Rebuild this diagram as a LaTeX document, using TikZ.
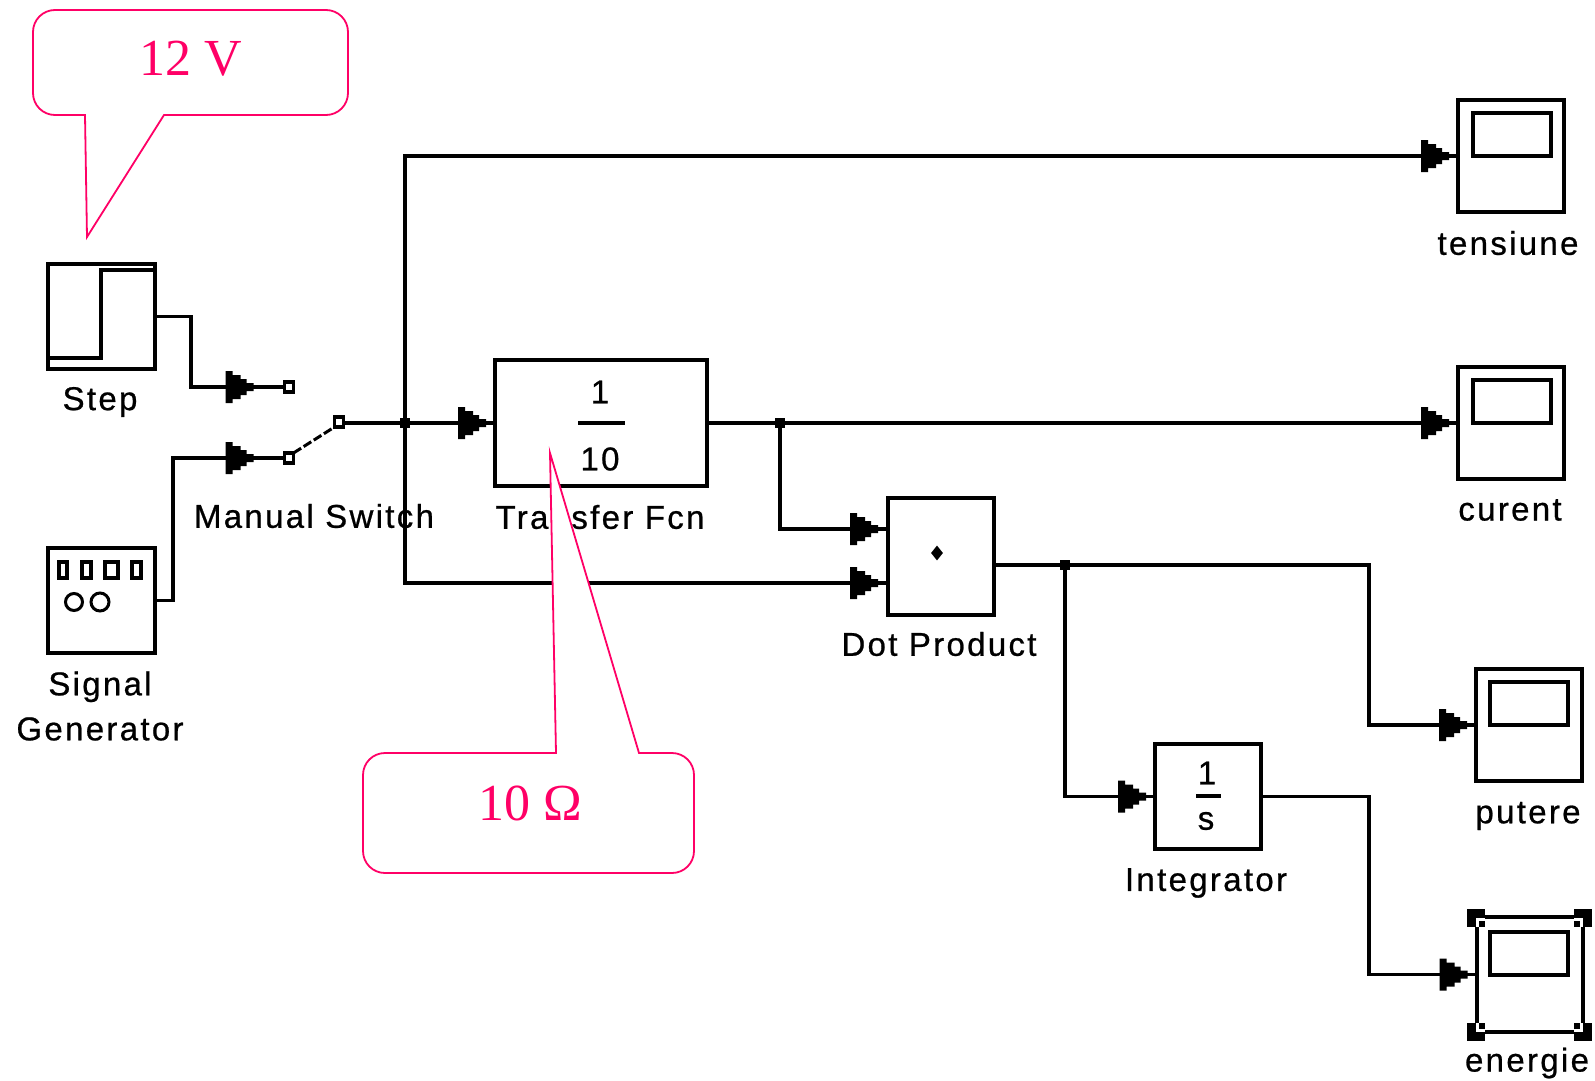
\documentclass[tikz,border=0pt]{standalone}
\usepackage{fontspec}
\setmainfont{Liberation Serif}
\newfontfamily\blockfont[LetterSpace=7,FakeBold=0.7]{Liberation Sans}
\usetikzlibrary{decorations.markings,shapes.geometric}
\definecolor{callpink}{RGB}{255,0,102}
\newcommand{\stairhead}{\fill[black] (-28pt,-16pt) -- (-21pt,-16pt) -- (-21pt,-12pt) -- (-13pt,-12pt) -- (-13pt,-8pt) -- (-7pt,-8pt) -- (-7pt,-4pt) -- (0pt,-4pt) -- (0pt,4pt) -- (-7pt,4pt) -- (-7pt,8pt) -- (-13pt,8pt) -- (-13pt,12pt) -- (-21pt,12pt) -- (-21pt,16pt) -- (-28pt,16pt) -- cycle;}
\tikzset{
  blockbox/.style={draw=black,line width=4pt,fill=white,inner sep=0pt,outer sep=0pt,rectangle},
  screenbox/.style={draw=black,line width=4pt,inner sep=0pt,outer sep=0pt,rectangle,minimum width=78pt,minimum height=43pt},
  scopebox/.style={blockbox,minimum width=106pt,minimum height=112pt},
  blocklabel/.style={font=\blockfont\fontsize{33}{40}\selectfont,inner sep=0pt,align=center},
  blocktext/.style={font=\blockfont\fontsize{33}{40}\selectfont,inner sep=0pt},
  wire/.style={line width=3.8pt,line join=miter},
  sig/.style={wire,postaction={decorate},decoration={markings,
     mark=at position -#1pt with {\stairhead}}},
  sig/.default=9,
  junction/.style={fill=black,rectangle,inner sep=0pt,minimum size=10pt,outer sep=0pt},
  portbox/.style={draw=black,line width=3.4pt,fill=white,rectangle,inner sep=0pt,minimum width=9pt,minimum height=10pt,outer sep=0pt},
  callpath/.style={draw=callpink,line width=1.8pt,fill=white,line join=miter},
  calltext/.style={text=callpink,font=\fontsize{52}{60}\selectfont,inner sep=0pt},
  handlebg/.style={fill=black,rectangle,inner sep=0pt,minimum size=18pt},
  handlein/.style={fill=white,rectangle,inner sep=0pt,minimum size=9pt},
  handledot/.style={fill=black,rectangle,inner sep=0pt,minimum size=6pt},
}
\begin{document}
\begin{tikzpicture}[x=1pt,y=-1pt]
\useasboundingbox (0,0) rectangle (1595,1081);
\fill[white] (0,0) rectangle (1595,1081);

% blocks
\node[blockbox,minimum width=107pt,minimum height=105pt] (step) at (101.5,316.5) {};
\node[blockbox,minimum width=107pt,minimum height=105pt] (gen) at (101.5,600.5) {};
\node[blockbox,minimum width=212pt,minimum height=126pt] (tf) at (601,423) {};
\node[blockbox,minimum width=106pt,minimum height=117pt] (dot) at (940.5,556) {};
\node[blockbox,minimum width=106pt,minimum height=105pt] (integ) at (1208,796.5) {};
\node[scopebox] (sten) at (1511,156) {};
\node[scopebox] (scur) at (1511,423) {};
\node[scopebox] (sput) at (1529,725) {};
\node[scopebox,minimum height=115pt] (sene) at (1529.5,974.5) {};
\node[screenbox] (iten) at (1512,134.5) {};
\node[screenbox] (icur) at (1512,401) {};
\node[screenbox] (iput) at (1529,703.5) {};
\node[screenbox] (iene) at (1528.5,953) {};

% block icons
\coordinate (stepa) at (48,358);
\coordinate (stepb) at (101,358);
\coordinate (stepc) at (101,270);
\coordinate (stepd) at (155,270);
\draw[line width=4pt,line join=miter] (stepa) -- (stepb) -- (stepc) -- (stepd);
\foreach \nm/\xa/\xb in {a/57/69,b/80/93,c/103/120,d/130/143}{
  \node[draw=black,line width=3.8pt,rectangle,inner sep=0pt,minimum width={\xb pt-\xa pt-3.8pt},minimum height=16.5pt] (gsq\nm) at ({(\xa+\xb)/2},570) {};
}
\node[draw=black,line width=3pt,circle,inner sep=0pt,minimum size=17pt] (gc1) at (74,602) {};
\node[draw=black,line width=3pt,circle,inner sep=0pt,minimum size=18pt] (gc2) at (100,602) {};
\node[blocktext] (tfn) at (600,392) {1};
\node[blocktext] (tfd) at (600,459) {10};
\coordinate (tfba) at (578,423);
\coordinate (tfbb) at (625,423);
\draw[line width=4pt] (tfba) -- (tfbb);
\node[fill=black,diamond,inner sep=0pt,minimum width=12pt,minimum height=15pt] (dotmark) at (937,553) {};
\node[blocktext] (intn) at (1207,773) {1};
\node[blocktext] (intd) at (1206,821) {s};
\coordinate (intba) at (1196,796);
\coordinate (intbb) at (1221,796);
\draw[line width=4pt] (intba) -- (intbb);

% selection handles
\foreach \nm/\px/\py/\qx/\qy/\rx/\ry in {a/1476/918/1480.5/922.5/1482/924,b/1583/918/1578.5/922.5/1577/924,c/1476/1032/1480.5/1027.5/1482/1026,d/1583/1032/1578.5/1027.5/1577/1026}{
  \node[handlebg] (hb\nm) at (\px,\py) {};
  \node[handlein] (hi\nm) at (\qx,\qy) {};
  \node[handledot] (hd\nm) at (\rx,\ry) {};
}

% ports and junctions
\node[portbox] (p1) at (289,387) {};
\node[portbox] (p2) at (289,458) {};
\node[portbox] (p3) at (339,422) {};
\node[junction] (j1) at (405,423) {};
\node[junction] (j2) at (780,423) {};
\node[junction] (j3) at (1065,565) {};
\coordinate (dotin1) at (887,529);
\coordinate (dotin2) at (887,583);
\coordinate (bus1) at (405,156);
\coordinate (bus2) at (405,583);
\coordinate (r1) at (191,316.5);
\coordinate (r2) at (173,458);
\coordinate (r3) at (1369,565);
\coordinate (r4) at (1369,725);
\coordinate (r5) at (1369,796.5);
\coordinate (r6) at (1369,974.5);
\coordinate (r7) at (780,529);
\coordinate (r8) at (1065,796.5);

% connectors
\draw[sig=31] (step.east) -- (r1) |- (p1.west);
\draw[sig=31] (gen.east) -| (r2) -- (p2.west);
\draw[wire,line width=3pt,dash pattern=on 9pt off 3pt] (p2.north east) -- (p3.south west);
\draw[wire] (p3.east |- j1) -- (j1.west);
\draw[sig] (j1) -- (tf.west);
\draw[wire] (tf.east) -- (j2);
\draw[sig] (j2) -- (scur.west);
\draw[sig] (j1) -- (bus1) -- (sten.west);
\draw[sig] (j1) -- (bus2) -- (dotin2);
\draw[sig] (j2) -- (r7) -- (dotin1);
\draw[wire] (dot.east |- j3) -- (j3);
\draw[sig] (j3) -- (r3) -- (r4) -- (sput.west);
\draw[sig] (j3) -- (r8) -- (integ.west);
\draw[sig] (integ.east) -- (r5) -- (r6) -- (sene.west);

% labels
\node[blocklabel] (lstep) at (100,402) {Step};
\node[blocklabel] (lgen) at (100,706) {Signal\\[5pt]Generator};
\node[blocklabel] (lsw) at (314,516) {Manual Switch};
\node[blocklabel] (ltf) at (600,517) {Transfer Fcn};
\node[blocklabel] (ldot) at (939,644) {Dot Product};
\node[blocklabel] (lint) at (1206,883) {Integrator};
\node[blocklabel] (lten) at (1508,243) {tensiune};
\node[blocklabel] (lcur) at (1510,510) {curent};
\node[blocklabel] (lput) at (1528,816) {putere};
\node[blocklabel] (lene) at (1527,1063) {energie};

% callouts
\coordinate (ca) at (85,115);
\coordinate (cb) at (87,237);
\coordinate (cc) at (164,115);
\draw[callpath] (ca) -- (cb) -- (cc) [rounded corners=22pt] -- (348,115) -- (348,10) -- (33,10) -- (33,115) [sharp corners] -- cycle;
\node[calltext] (v12) at (191,59) {12 V};
\coordinate (da) at (556,753);
\coordinate (db) at (550,453);
\coordinate (dc) at (639,753);
\draw[callpath] (da) -- (db) -- (dc) [rounded corners=22pt] -- (694,753) -- (694,873) -- (363,873) -- (363,753) [sharp corners] -- cycle;
\node[calltext] (r10) at (530,803) {10 Ω};
\end{tikzpicture}
\end{document}
